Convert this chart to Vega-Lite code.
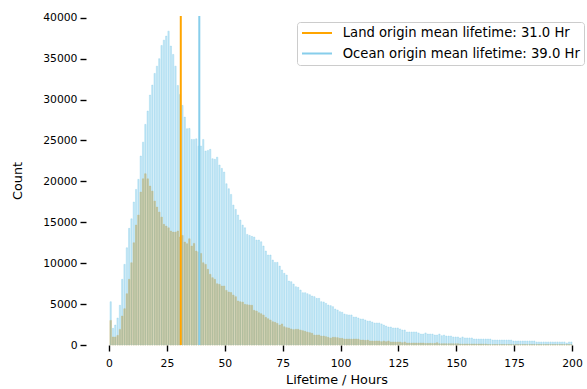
{
  "$schema": "https://vega.github.io/schema/vega-lite/v6.json",
  "width": 501,
  "height": 329,
  "autosize": "none",
  "padding": {"left": 86, "top": 16, "right": 0, "bottom": 44},
  "background": "white",
  "config": {
    "view": {"stroke": null},
    "font": "DejaVu Sans",
    "axis": {
      "grid": false,
      "domain": false,
      "ticks": true,
      "tickColor": "#000000",
      "tickOpacity": 1,
      "tickWidth": 1.4,
      "tickDash": [],
      "tickSize": 6,
      "zindex": 1,
      "labelFont": "DejaVu Sans",
      "labelFontSize": 10.8,
      "labelColor": "#000000",
      "labelPadding": 3,
      "titleFont": "DejaVu Sans",
      "titleFontSize": 12.8,
      "titleFontWeight": "normal",
      "titleColor": "#000000"
    },
    "legend": {
      "orient": "none",
      "legendX": 211,
      "legendY": 6,
      "fillColor": "rgba(255,255,255,0.8)",
      "strokeColor": "#cccccc",
      "cornerRadius": 3,
      "padding": 4,
      "symbolType": "stroke",
      "symbolSize": 900,
      "symbolStrokeWidth": 2,
      "labelFont": "DejaVu Sans",
      "labelFontSize": 13.2,
      "labelColor": "#000000",
      "labelLimit": 400,
      "labelOffset": 9.7,
      "clipHeight": 14,
      "rowPadding": 6.5,
      "title": null
    }
  },
  "datasets": {
    "land": [
      {"hour":0,"count":3010},{"hour":1,"count":980},{"hour":2,"count":980},{"hour":3,"count":1180},{"hour":4,"count":1910},
      {"hour":5,"count":3540},{"hour":6,"count":4440},{"hour":7,"count":6270},{"hour":8,"count":8030},{"hour":9,"count":10060},
      {"hour":10,"count":12500},{"hour":11,"count":14660},{"hour":12,"count":15890},{"hour":13,"count":18700},{"hour":14,"count":20320},
      {"hour":15,"count":20940},{"hour":16,"count":20320},{"hour":17,"count":19430},{"hour":18,"count":18820},{"hour":19,"count":17600},
      {"hour":20,"count":16860},{"hour":21,"count":16250},{"hour":22,"count":15640},{"hour":23,"count":14750},{"hour":24,"count":14540},
      {"hour":25,"count":14330},{"hour":26,"count":13930},{"hour":27,"count":13810},{"hour":28,"count":13810},{"hour":29,"count":13930},
      {"hour":30,"count":13200},{"hour":31,"count":13400},{"hour":32,"count":12590},{"hour":33,"count":12380},{"hour":34,"count":12990},
      {"hour":35,"count":12100},{"hour":36,"count":12420},{"hour":37,"count":11490},{"hour":38,"count":11370},{"hour":39,"count":11200},
      {"hour":40,"count":10060},{"hour":41,"count":9860},{"hour":42,"count":9250},{"hour":43,"count":8640},{"hour":44,"count":8230},
      {"hour":45,"count":8030},{"hour":46,"count":7490},{"hour":47,"count":7420},{"hour":48,"count":7210},{"hour":49,"count":7210},
      {"hour":50,"count":6680},{"hour":51,"count":6480},{"hour":52,"count":6410},{"hour":53,"count":6110},{"hour":54,"count":5910},
      {"hour":55,"count":5380},{"hour":56,"count":5290},{"hour":57,"count":5250},{"hour":58,"count":4970},{"hour":59,"count":4930},
      {"hour":60,"count":4890},{"hour":61,"count":4850},{"hour":62,"count":4240},{"hour":63,"count":4160},{"hour":64,"count":3950},
      {"hour":65,"count":3830},{"hour":66,"count":3670},{"hour":67,"count":3380},{"hour":68,"count":3220},{"hour":69,"count":3060},
      {"hour":70,"count":2850},{"hour":71,"count":2770},{"hour":72,"count":2650},{"hour":73,"count":2440},{"hour":74,"count":2570},
      {"hour":75,"count":2240},{"hour":76,"count":2120},{"hour":77,"count":2080},{"hour":78,"count":1960},{"hour":79,"count":1880},
      {"hour":80,"count":1920},{"hour":81,"count":1920},{"hour":82,"count":1830},{"hour":83,"count":1750},{"hour":84,"count":1670},
      {"hour":85,"count":1590},{"hour":86,"count":1510},{"hour":87,"count":1430},{"hour":88,"count":1220},{"hour":89,"count":1220},
      {"hour":90,"count":1220},{"hour":91,"count":1100},{"hour":92,"count":1100},{"hour":93,"count":1020},{"hour":94,"count":940},
      {"hour":95,"count":855},{"hour":96,"count":940},{"hour":97,"count":940},{"hour":98,"count":900},{"hour":99,"count":815},
      {"hour":100,"count":815},{"hour":101,"count":730},{"hour":102,"count":730},{"hour":103,"count":730},{"hour":104,"count":730},
      {"hour":105,"count":730},{"hour":106,"count":730},{"hour":107,"count":730},{"hour":108,"count":610},{"hour":109,"count":610},
      {"hour":110,"count":570},{"hour":111,"count":610},{"hour":112,"count":490},{"hour":113,"count":490},{"hour":114,"count":490},
      {"hour":115,"count":490},{"hour":116,"count":490},{"hour":117,"count":410},{"hour":118,"count":490},{"hour":119,"count":410},
      {"hour":120,"count":490},{"hour":121,"count":370},{"hour":122,"count":370},{"hour":123,"count":370},{"hour":124,"count":370},
      {"hour":125,"count":370},{"hour":126,"count":285},{"hour":127,"count":370},{"hour":128,"count":245},{"hour":129,"count":245},
      {"hour":130,"count":245},{"hour":131,"count":245},{"hour":132,"count":245},{"hour":133,"count":245},{"hour":134,"count":245},
      {"hour":135,"count":245},{"hour":136,"count":200},{"hour":137,"count":200},{"hour":138,"count":200},{"hour":139,"count":200},
      {"hour":140,"count":200},{"hour":141,"count":285},{"hour":142,"count":160},{"hour":143,"count":160},{"hour":144,"count":160},
      {"hour":145,"count":160},{"hour":146,"count":160},{"hour":147,"count":160},{"hour":148,"count":160},{"hour":149,"count":160},
      {"hour":150,"count":160},{"hour":151,"count":120},{"hour":152,"count":120},{"hour":153,"count":120},{"hour":154,"count":120},
      {"hour":155,"count":120},{"hour":156,"count":120},{"hour":157,"count":120},{"hour":158,"count":120},{"hour":159,"count":120},
      {"hour":160,"count":120},{"hour":161,"count":120},{"hour":162,"count":120},{"hour":163,"count":60},{"hour":164,"count":60},
      {"hour":165,"count":60},{"hour":166,"count":60},{"hour":167,"count":60},{"hour":168,"count":60},{"hour":169,"count":60},
      {"hour":170,"count":60},{"hour":171,"count":60},{"hour":172,"count":60},{"hour":173,"count":60},{"hour":174,"count":60},
      {"hour":175,"count":60},{"hour":176,"count":60},{"hour":177,"count":60},{"hour":178,"count":60},{"hour":179,"count":60},
      {"hour":180,"count":60},{"hour":181,"count":60},{"hour":182,"count":60},{"hour":183,"count":60},{"hour":184,"count":60},
      {"hour":185,"count":60},{"hour":186,"count":60},{"hour":187,"count":60},{"hour":188,"count":60},{"hour":189,"count":60},
      {"hour":190,"count":60},{"hour":191,"count":60},{"hour":192,"count":60},{"hour":193,"count":60},{"hour":194,"count":60},
      {"hour":195,"count":60},{"hour":196,"count":60},{"hour":197,"count":60},{"hour":198,"count":60},{"hour":199,"count":60}
    ],
    "ocean": [
      {"hour":0,"count":5290},{"hour":1,"count":2040},{"hour":2,"count":2440},{"hour":3,"count":3300},{"hour":4,"count":4850},
      {"hour":5,"count":8030},{"hour":6,"count":9860},{"hour":7,"count":11890},{"hour":8,"count":14260},{"hour":9,"count":15430},
      {"hour":10,"count":17475},{"hour":11,"count":19020},{"hour":12,"count":20250},{"hour":13,"count":23100},{"hour":14,"count":24800},
      {"hour":15,"count":26970},{"hour":16,"count":28600},{"hour":17,"count":30550},{"hour":18,"count":31770},{"hour":19,"count":33200},
      {"hour":20,"count":34090},{"hour":21,"count":35000},{"hour":22,"count":36620},{"hour":23,"count":37270},{"hour":24,"count":37760},
      {"hour":25,"count":38370},{"hour":26,"count":36540},{"hour":27,"count":35520},{"hour":28,"count":34090},{"hour":29,"count":31730},
      {"hour":30,"count":30630},{"hour":31,"count":29290},{"hour":32,"count":27860},{"hour":33,"count":26440},{"hour":34,"count":26480},
      {"hour":35,"count":25130},{"hour":36,"count":25130},{"hour":37,"count":25200},{"hour":38,"count":24320},{"hour":39,"count":24320},
      {"hour":40,"count":25130},{"hour":41,"count":23710},{"hour":42,"count":23790},{"hour":43,"count":23920},{"hour":44,"count":22770},
      {"hour":45,"count":22700},{"hour":46,"count":22960},{"hour":47,"count":22000},{"hour":48,"count":21590},{"hour":49,"count":21140},
      {"hour":50,"count":19710},{"hour":51,"count":19100},{"hour":52,"count":18410},{"hour":53,"count":17110},{"hour":54,"count":16580},
      {"hour":55,"count":15890},{"hour":56,"count":15280},{"hour":57,"count":14660},{"hour":58,"count":14330},{"hour":59,"count":13520},
      {"hour":60,"count":13400},{"hour":61,"count":13280},{"hour":62,"count":13200},{"hour":63,"count":12830},{"hour":64,"count":12830},
      {"hour":65,"count":12620},{"hour":66,"count":12100},{"hour":67,"count":11490},{"hour":68,"count":11000},{"hour":69,"count":11000},
      {"hour":70,"count":10390},{"hour":71,"count":10100},{"hour":72,"count":10100},{"hour":73,"count":9650},{"hour":74,"count":9170},
      {"hour":75,"count":8760},{"hour":76,"count":8550},{"hour":77,"count":7820},{"hour":78,"count":7740},{"hour":79,"count":7450},
      {"hour":80,"count":7130},{"hour":81,"count":7050},{"hour":82,"count":6720},{"hour":83,"count":6390},{"hour":84,"count":6390},
      {"hour":85,"count":6270},{"hour":86,"count":6150},{"hour":87,"count":5990},{"hour":88,"count":5910},{"hour":89,"count":5700},
      {"hour":90,"count":5700},{"hour":91,"count":5300},{"hour":92,"count":5260},{"hour":93,"count":5090},{"hour":94,"count":4890},
      {"hour":95,"count":4810},{"hour":96,"count":4690},{"hour":97,"count":4400},{"hour":98,"count":4280},{"hour":99,"count":4070},
      {"hour":100,"count":4000},{"hour":101,"count":3790},{"hour":102,"count":3710},{"hour":103,"count":3670},{"hour":104,"count":3670},
      {"hour":105,"count":3420},{"hour":106,"count":3420},{"hour":107,"count":3300},{"hour":108,"count":3180},{"hour":109,"count":3180},
      {"hour":110,"count":3060},{"hour":111,"count":2930},{"hour":112,"count":2930},{"hour":113,"count":2810},{"hour":114,"count":2690},
      {"hour":115,"count":2690},{"hour":116,"count":2690},{"hour":117,"count":2570},{"hour":118,"count":2440},{"hour":119,"count":2320},
      {"hour":120,"count":2200},{"hour":121,"count":2200},{"hour":122,"count":2080},{"hour":123,"count":2080},{"hour":124,"count":2080},
      {"hour":125,"count":1960},{"hour":126,"count":1830},{"hour":127,"count":1830},{"hour":128,"count":1590},{"hour":129,"count":1590},
      {"hour":130,"count":1590},{"hour":131,"count":1590},{"hour":132,"count":1590},{"hour":133,"count":1470},{"hour":134,"count":1340},
      {"hour":135,"count":1340},{"hour":136,"count":1470},{"hour":137,"count":1340},{"hour":138,"count":1340},{"hour":139,"count":1340},
      {"hour":140,"count":1220},{"hour":141,"count":1220},{"hour":142,"count":1340},{"hour":143,"count":1140},{"hour":144,"count":1220},
      {"hour":145,"count":1100},{"hour":146,"count":1100},{"hour":147,"count":1100},{"hour":148,"count":980},{"hour":149,"count":980},
      {"hour":150,"count":980},{"hour":151,"count":860},{"hour":152,"count":980},{"hour":153,"count":860},{"hour":154,"count":860},
      {"hour":155,"count":860},{"hour":156,"count":860},{"hour":157,"count":730},{"hour":158,"count":730},{"hour":159,"count":730},
      {"hour":160,"count":730},{"hour":161,"count":730},{"hour":162,"count":730},{"hour":163,"count":730},{"hour":164,"count":730},
      {"hour":165,"count":610},{"hour":166,"count":610},{"hour":167,"count":610},{"hour":168,"count":610},{"hour":169,"count":610},
      {"hour":170,"count":610},{"hour":171,"count":610},{"hour":172,"count":610},{"hour":173,"count":610},{"hour":174,"count":490},
      {"hour":175,"count":490},{"hour":176,"count":490},{"hour":177,"count":490},{"hour":178,"count":490},{"hour":179,"count":490},
      {"hour":180,"count":490},{"hour":181,"count":490},{"hour":182,"count":490},{"hour":183,"count":490},{"hour":184,"count":370},
      {"hour":185,"count":370},{"hour":186,"count":370},{"hour":187,"count":370},{"hour":188,"count":370},{"hour":189,"count":370},
      {"hour":190,"count":370},{"hour":191,"count":370},{"hour":192,"count":370},{"hour":193,"count":370},{"hour":194,"count":370},
      {"hour":195,"count":370},{"hour":196,"count":370},{"hour":197,"count":245},{"hour":198,"count":370},{"hour":199,"count":370}
    ],
    "means": [
      {"label": "Land origin mean lifetime: 31.0 Hr", "mean": 31},
      {"label": "Ocean origin mean lifetime: 39.0 Hr", "mean": 39}
    ]
  },
  "layer": [
    {
      "data": {"name": "land"},
      "mark": {"type": "bar", "fill": "#f7a82d", "stroke": "#f7a82d", "strokeWidth": 0.5},
      "encoding": {
        "x": {
          "field": "hour", "type": "quantitative", "bin": {"binned": true, "step": 1},
          "scale": {"domain": [-9.94, 206.47], "nice": false, "zero": false},
          "axis": {"values": [0, 25, 50, 75, 100, 125, 150, 175, 200], "format": "d", "title": "Lifetime / Hours", "titlePadding": 6, "labelPadding": 6}
        },
        "y": {
          "field": "count", "type": "quantitative",
          "scale": {"domain": [0, 40220], "nice": false},
          "axis": {"values": [0, 5000, 10000, 15000, 20000, 25000, 30000, 35000, 40000], "format": "d", "title": "Count", "titlePadding": 18, "labelPadding": 3}
        }
      }
    },
    {
      "data": {"name": "ocean"},
      "mark": {"type": "bar", "fill": "#87ceeb", "fillOpacity": 0.5, "stroke": "#87ceeb", "strokeOpacity": 0.5, "strokeWidth": 0.7},
      "encoding": {
        "x": {"field": "hour", "type": "quantitative", "bin": {"binned": true, "step": 1}},
        "y": {"field": "count", "type": "quantitative"}
      }
    },
    {
      "data": {"name": "means"},
      "mark": {"type": "rule", "strokeWidth": 2},
      "encoding": {
        "x": {"field": "mean", "type": "quantitative"},
        "color": {
          "field": "label", "type": "nominal",
          "scale": {"domain": ["Land origin mean lifetime: 31.0 Hr", "Ocean origin mean lifetime: 39.0 Hr"], "range": ["#ffa500", "#87ceeb"]}
        }
      }
    },
    {
      "mark": {"type": "rule", "color": "#000000", "strokeWidth": 1.4},
      "encoding": {"y": {"datum": 40220, "type": "quantitative"}}
    },
    {
      "mark": {"type": "rule", "color": "#000000", "strokeWidth": 2.5},
      "encoding": {"y": {"datum": 0, "type": "quantitative"}}
    },
    {
      "mark": {"type": "rule", "color": "#000000", "strokeWidth": 2.5},
      "encoding": {"x": {"datum": -9.94, "type": "quantitative"}}
    }
  ]
}
